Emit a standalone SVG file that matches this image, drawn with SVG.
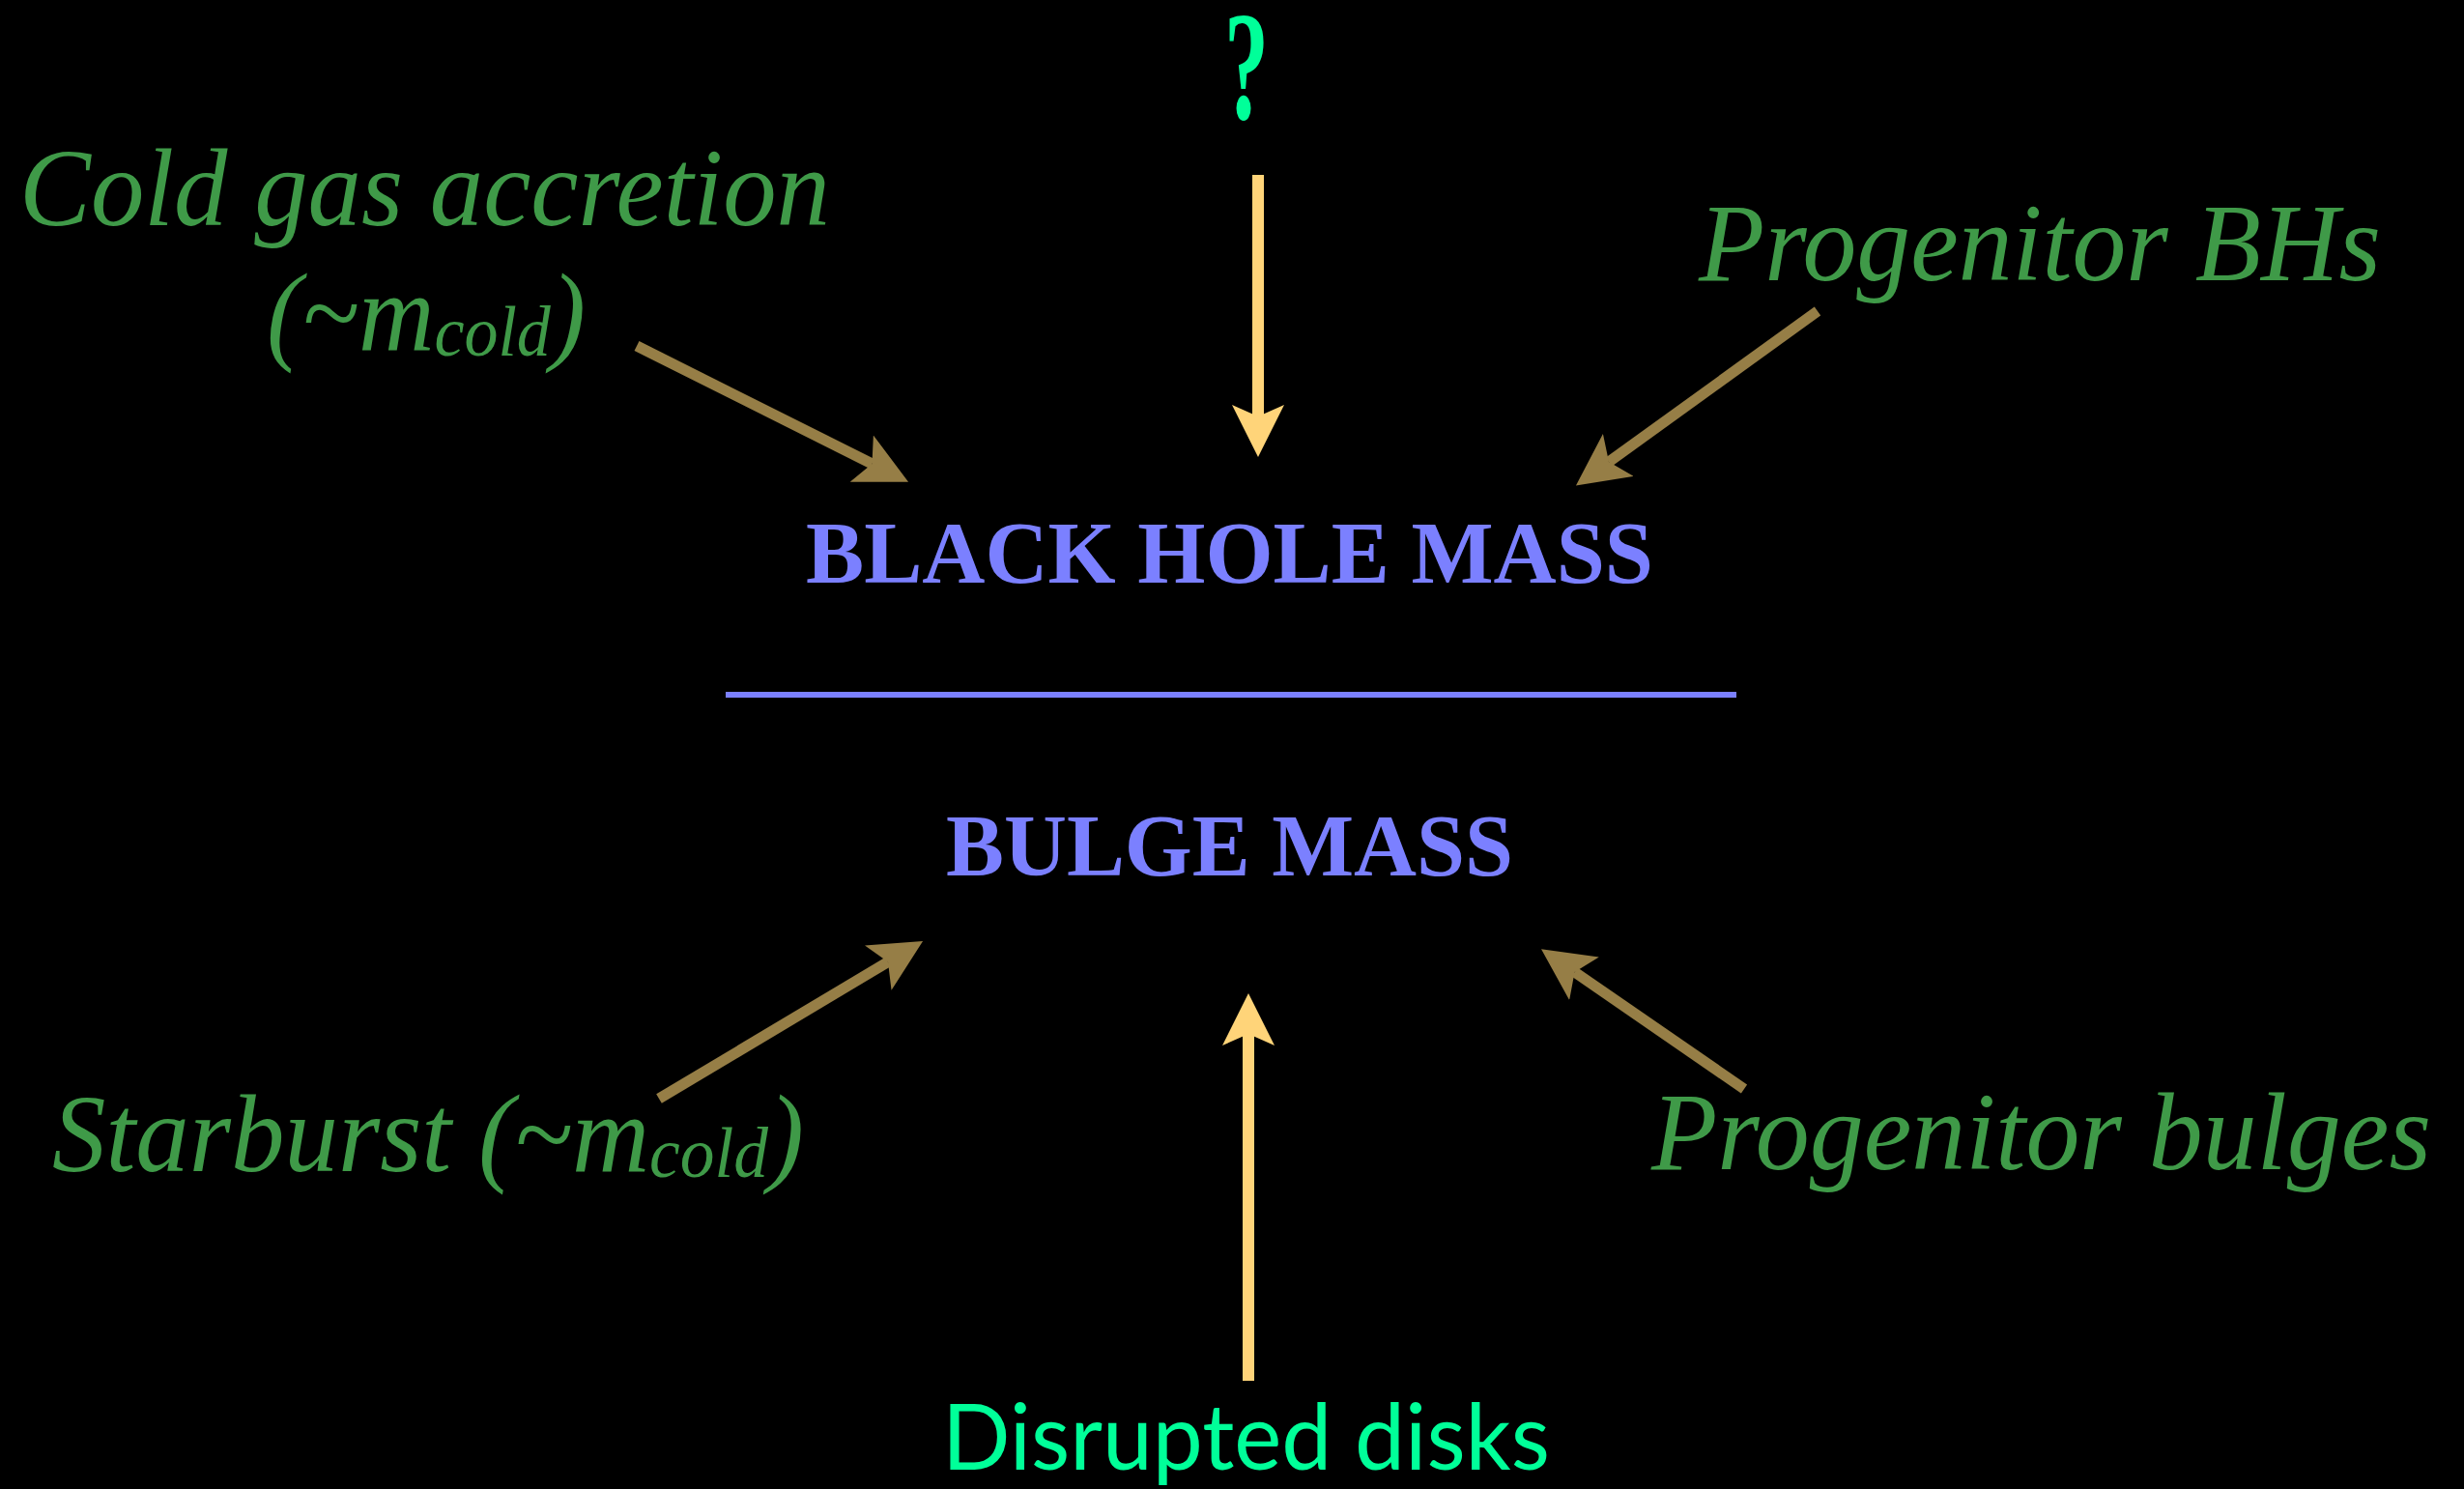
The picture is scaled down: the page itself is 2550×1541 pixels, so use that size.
<svg xmlns="http://www.w3.org/2000/svg" width="2550" height="1541" viewBox="0 0 2550 1541">
<style>
.lbl{font-family:"Liberation Serif","Times New Roman",serif;font-style:italic;font-size:115px;fill:#3F9A48}
.sub{font-size:74px}
.mass{font-family:"Liberation Serif","Times New Roman",serif;font-weight:bold;font-size:92px;fill:#7B80FF}
.src{fill:#00FF99}
.yel{stroke:#FFD479;stroke-width:12;fill:none;marker-end:url(#hy)}
.brn{stroke:#967E46;stroke-width:11;fill:none;marker-end:url(#hb)}
</style>
<defs>
<marker id="hy" markerUnits="userSpaceOnUse" viewBox="0 0 54 54" refX="12" refY="27" markerWidth="54" markerHeight="54" orient="auto">
<path d="M0,0 L54,27 L0,54 L12,27 Z" fill="#FFD479"/>
</marker>
<marker id="hb" markerUnits="userSpaceOnUse" viewBox="0 0 54 54" refX="12" refY="27" markerWidth="54" markerHeight="54" orient="auto">
<path d="M0,0 L54,27 L0,54 L12,27 Z" fill="#967E46"/>
</marker>
</defs>
<rect width="2550" height="1541" fill="#000"/>
<g id="connectors">
<line class="yel" x1="1302" y1="181" x2="1302" y2="431"/>
<line class="yel" x1="1292" y1="1429" x2="1292" y2="1070"/>
<line class="brn" x1="659" y1="358" x2="902.5" y2="480"/>
<line class="brn" x1="1881" y1="322" x2="1665" y2="478"/>
<line class="brn" x1="682" y1="1137" x2="919" y2="995.5"/>
<line class="brn" x1="1805" y1="1127" x2="1629.6" y2="1006"/>
</g>
<g id="question">
<text class="src" x="1267" y="123" font-family="Liberation Serif, Times New Roman, serif" font-weight="bold" font-size="160" textLength="46" lengthAdjust="spacingAndGlyphs">?</text>
</g>
<g id="cold-gas">
<text class="lbl" x="20" y="233" textLength="839" lengthAdjust="spacingAndGlyphs">Cold gas accretion</text>
<text class="lbl" x="276" y="362" textLength="330" lengthAdjust="spacingAndGlyphs">(~m<tspan class="sub" dy="6">cold</tspan><tspan dy="-6">)</tspan></text>
</g>
<g id="progenitor-bhs">
<text class="lbl" x="1758" y="290" textLength="706" lengthAdjust="spacingAndGlyphs">Progenitor BHs</text>
</g>
<g id="black-hole-mass">
<text class="mass" x="834" y="603" textLength="877" lengthAdjust="spacingAndGlyphs">BLACK HOLE MASS</text>
</g>
<g id="fraction-line">
<line x1="751" y1="719" x2="1797" y2="719" stroke="#7B80FF" stroke-width="6"/>
</g>
<g id="bulge-mass">
<text class="mass" x="979" y="906" textLength="587" lengthAdjust="spacingAndGlyphs">BULGE MASS</text>
</g>
<g id="starburst">
<text class="lbl" x="54" y="1212" textLength="778" lengthAdjust="spacingAndGlyphs">Starburst (~m<tspan class="sub" dy="6">cold</tspan><tspan dy="-6">)</tspan></text>
</g>
<g id="progenitor-bulges">
<text class="lbl" x="1709" y="1210" textLength="807" lengthAdjust="spacingAndGlyphs">Progenitor bulges</text>
</g>
<g id="disrupted-disks">
<text class="src" x="975" y="1521" font-family="Lato, Open Sans, sans-serif" font-size="95" textLength="629" lengthAdjust="spacingAndGlyphs">Disrupted disks</text>
</g>
</svg>
